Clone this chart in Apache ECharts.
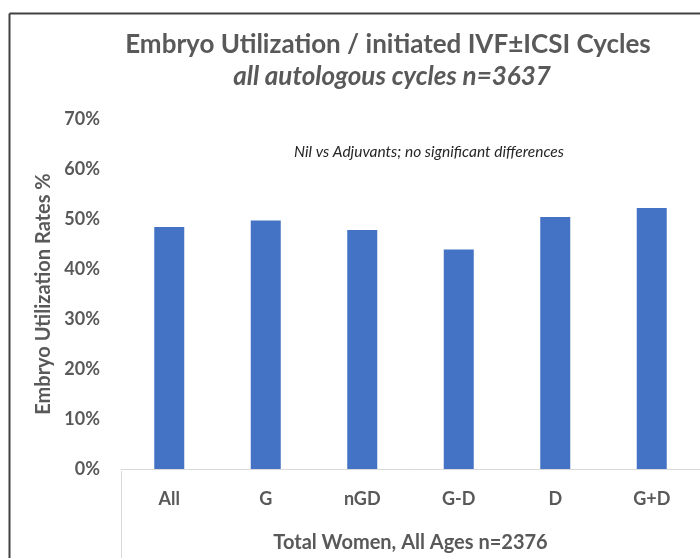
<!DOCTYPE html>
<html>
<head>
<meta charset="utf-8">
<script src="https://cdn.jsdelivr.net/npm/echarts@6/dist/echarts.min.js"></script>
<style>
  html, body { margin: 0; padding: 0; background: #fff; }
  #container { width: 700px; height: 558px; }
</style>
</head>
<body>
<div id="container"></div>
<script>
// chart data
var categories = ['All', 'G', 'nGD', 'G-D', 'D', 'G+D'];
var utilizationRates = [48.4, 49.7, 47.8, 43.9, 50.4, 52.2];
var yTicks = [0, 10, 20, 30, 40, 50, 60, 70];

var titleText = 'Embryo Utilization / initiated IVF\u00B1ICSI Cycles';
var subtitleText = 'all autologous cycles n=3637';
var noteText = 'Nil vs Adjuvants; no significant differences';
var xAxisName = 'Total Women, All Ages n=2376';
var yAxisName = 'Embryo Utilization Rates %';

var dom = document.getElementById('container');
var myChart = echarts.init(dom);
var font = 'Lato, "Open Sans", sans-serif';
var grey = '#595959';

var option = {
    animation: false,
    backgroundColor: '#fff',
    textStyle: { fontFamily: font },
    grid: { left: 121, right: -6, top: 119, bottom: 87, containLabel: false },
    xAxis: {
        type: 'category',
        data: categories,
        boundaryGap: true,
        axisLine: { lineStyle: { color: '#d9d9d9', width: 1 } },
        axisTick: { show: false },
        axisLabel: { color: grey, fontSize: 18, fontWeight: 'bold', fontFamily: font, margin: 21 },
        name: xAxisName,
        nameLocation: 'middle',
        nameGap: 64,
        nameTextStyle: { color: grey, fontSize: 20, fontWeight: 'bold', fontFamily: font }
    },
    yAxis: {
        type: 'value',
        min: yTicks[0],
        max: yTicks[yTicks.length - 1],
        interval: 10,
        axisLine: { show: false },
        axisTick: { show: false },
        splitLine: { show: false },
        axisLabel: {
            color: grey, fontSize: 18, fontWeight: 'bold', fontFamily: font, margin: 21,
            formatter: '{value}%'
        },
        name: yAxisName,
        nameLocation: 'middle',
        nameRotate: 90,
        nameGap: 66,
        nameTextStyle: { color: grey, fontSize: 20, fontWeight: 'bold', fontFamily: font }
    },
    series: [{
        type: 'bar',
        data: utilizationRates,
        barWidth: 30,
        itemStyle: { color: '#4472C4' }
    }],
    graphic: [
        // chart frame (left and top edges)
        { type: 'line', shape: { x1: 9.5, y1: 13.5, x2: 700, y2: 13.5 }, style: { stroke: '#404040', lineWidth: 2 } },
        { type: 'line', shape: { x1: 9.5, y1: 13.5, x2: 9.5, y2: 558 }, style: { stroke: '#404040', lineWidth: 2 } },
        // category group divider
        { type: 'line', shape: { x1: 121.5, y1: 471, x2: 121.5, y2: 558 }, style: { stroke: '#d9d9d9', lineWidth: 1 } },
        {
            type: 'text', x: 388, y: 45,
            style: { text: titleText, fill: grey, font: 'bold 26px ' + font, textAlign: 'center', textVerticalAlign: 'middle' }
        },
        {
            type: 'text', x: 392, y: 77,
            style: { text: subtitleText, fill: grey, font: 'italic bold 26px ' + font, textAlign: 'center', textVerticalAlign: 'middle' }
        },
        {
            type: 'text', x: 429, y: 152,
            style: { text: noteText, fill: '#262626', font: 'italic 15.5px ' + font, textAlign: 'center', textVerticalAlign: 'middle' }
        }
    ]
};

if (option && typeof option === 'object') {
    myChart.setOption(option, true);
}
</script>
</body>
</html>
